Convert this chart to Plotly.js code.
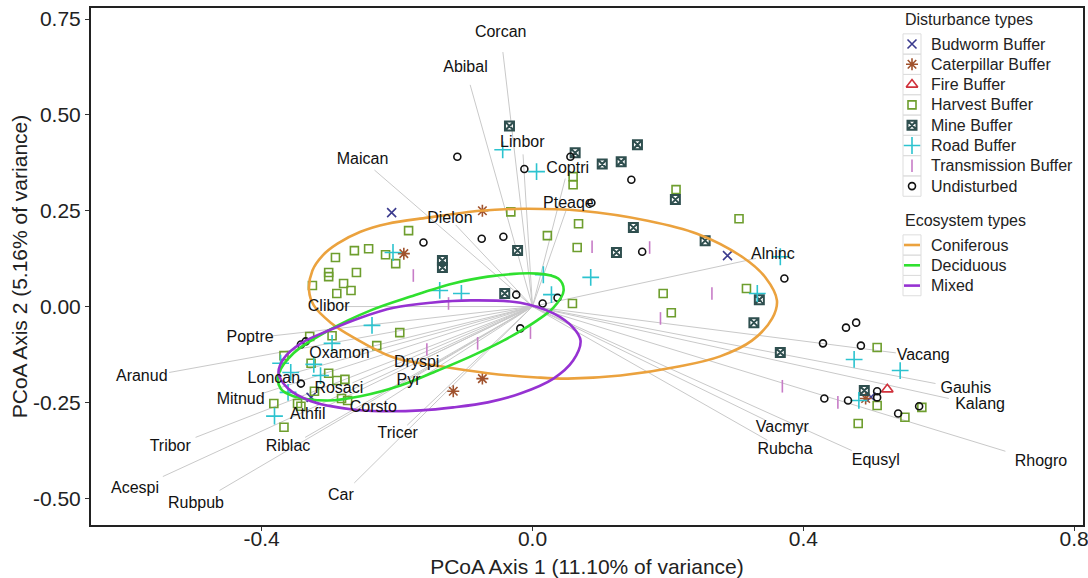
<!DOCTYPE html>
<html><head><meta charset="utf-8">
<script src="https://cdn.plot.ly/plotly-3.0.1.min.js"></script>
<style>html,body{margin:0;padding:0;background:#fff}#chart{width:1088px;height:578px}</style>
</head><body><div id="chart"></div>
<script>
// ---- Species vectors (label positions, PCoA axes) ----
const speciesNames = ['Corcan','Abibal','Linbor','Maican','Coptri','Pteaqe','Dielon','Alninc','Clibor','Poptre','Oxamon','Aranud','Loncan','Dryspi','Pyr','Rosaci','Mitnud','Corsto','Athfil','Tricer','Tribor','Riblac','Acespi','Rubpub','Car','Vacang','Gauhis','Kalang','Vacmyr','Rubcha','Equsyl','Rhogro'];
const speciesX = [-0.047,-0.099,-0.015,-0.251,0.052,0.053,-0.122,0.355,-0.301,-0.417,-0.285,-0.577,-0.382,-0.171,-0.183,-0.286,-0.431,-0.235,-0.332,-0.199,-0.535,-0.361,-0.587,-0.497,-0.283,0.577,0.640,0.661,0.369,0.373,0.507,0.751];
const speciesY = [0.714,0.622,0.427,0.383,0.359,0.268,0.229,0.135,0.000,-0.083,-0.125,-0.185,-0.188,-0.146,-0.193,-0.214,-0.245,-0.266,-0.284,-0.333,-0.367,-0.367,-0.477,-0.516,-0.495,-0.130,-0.216,-0.258,-0.318,-0.375,-0.404,-0.406];

// ---- Sites by disturbance type ----
const budwormX = [-0.208,0.288,0.500,-0.327];
const budwormY = [0.245,0.133,-0.236,-0.237];
const caterpillarX = [-0.074,-0.190,-0.074,-0.117,0.492];
const caterpillarY = [0.250,0.138,-0.188,-0.221,-0.240];
const fireX = [0.524];
const fireY = [-0.216];
const harvestX = [-0.183,-0.242,-0.263,-0.291,-0.217,-0.202,-0.260,-0.301,-0.301,-0.325,-0.279,-0.268,-0.289,-0.196,-0.230,-0.296,-0.329,-0.367,-0.327,-0.301,-0.289,-0.277,-0.322,-0.282,-0.273,-0.347,-0.342,-0.382,-0.367,0.193,0.205,0.059,0.316,-0.032,0.022,0.066,0.068,0.060,0.060,0.212,0.305,0.509,0.509,0.481,0.550,0.575];
const harvestY = [0.198,0.151,0.146,0.128,0.135,0.112,0.089,0.089,0.078,0.055,0.060,0.042,0.034,-0.068,-0.102,-0.076,-0.078,-0.128,-0.148,-0.174,-0.193,-0.190,-0.221,-0.240,-0.245,-0.253,-0.260,-0.253,-0.315,0.034,-0.016,0.008,0.047,0.247,0.185,0.154,0.216,0.318,0.339,0.305,0.229,-0.107,-0.258,-0.305,-0.289,-0.263];
const mineX = [-0.034,0.063,0.103,0.131,0.155,0.211,0.149,0.255,-0.022,0.124,-0.133,-0.133,-0.041,0.335,0.327,0.366,0.490];
const mineY = [0.471,0.401,0.372,0.378,0.422,0.279,0.206,0.172,0.146,0.141,0.120,0.102,0.034,0.018,-0.042,-0.120,-0.219];
const roadX = [-0.044,0.006,0.016,0.086,-0.137,-0.105,0.028,-0.206,-0.237,-0.296,-0.372,-0.357,-0.323,-0.313,-0.361,-0.381,0.332,0.366,0.475,0.543,0.482];
const roadY = [0.409,0.352,0.083,0.076,0.042,0.034,0.031,0.141,-0.049,-0.096,-0.148,-0.172,-0.151,-0.180,-0.224,-0.286,0.034,0.130,-0.138,-0.167,-0.245];
const transX = [0.088,0.173,-0.176,0.265,0.189,-0.003,-0.081,-0.156,-0.124,0.369,0.451];
const transY = [0.156,0.154,0.081,0.034,-0.031,-0.068,-0.096,-0.112,0.008,-0.208,-0.250];
const undistX = [-0.111,-0.012,0.056,0.146,0.087,-0.161,-0.075,-0.043,0.162,-0.024,0.037,0.015,-0.018,0.372,-0.342,-0.335,-0.342,0.463,0.478,0.429,0.485,0.509,0.509,0.431,0.466,0.540,0.571];
const undistY = [0.391,0.359,0.391,0.331,0.271,0.167,0.177,0.182,0.143,0.031,0.023,0.008,-0.057,0.073,-0.099,-0.091,-0.201,-0.055,-0.042,-0.096,-0.102,-0.221,-0.237,-0.240,-0.245,-0.279,-0.260];

// ---- Ecosystem ellipses (outline) ----
const coniferousX = [-0.330,-0.325,-0.310,-0.288,-0.254,-0.214,-0.155,-0.077,-0.013,0.071,0.170,0.243,0.311,0.344,0.361,0.354,0.324,0.277,0.218,0.130,0.052,0.007,-0.066,-0.136,-0.205,-0.264,-0.298,-0.323,-0.330];
const coniferousY = [0.042,0.094,0.133,0.164,0.195,0.216,0.232,0.250,0.255,0.250,0.224,0.190,0.128,0.076,0.016,-0.031,-0.089,-0.130,-0.156,-0.180,-0.188,-0.185,-0.174,-0.156,-0.133,-0.081,-0.042,0.003,0.042];
const deciduousX = [-0.375,-0.353,-0.302,-0.239,-0.180,-0.117,-0.066,0.007,0.038,0.046,0.031,0.007,-0.043,-0.091,-0.140,-0.195,-0.254,-0.302,-0.353,-0.372,-0.375];
const deciduousY = [-0.177,-0.122,-0.063,-0.010,0.026,0.060,0.078,0.086,0.073,0.042,-0.003,-0.036,-0.089,-0.130,-0.167,-0.206,-0.234,-0.245,-0.234,-0.214,-0.177];
const mixedX = [-0.375,-0.367,-0.342,-0.302,-0.254,-0.205,-0.150,-0.091,-0.018,0.031,0.060,0.071,0.060,0.031,-0.018,-0.066,-0.117,-0.165,-0.224,-0.268,-0.327,-0.361,-0.375];
const mixedY = [-0.174,-0.135,-0.096,-0.063,-0.029,-0.003,0.010,0.016,0.010,-0.018,-0.055,-0.089,-0.141,-0.188,-0.227,-0.250,-0.263,-0.271,-0.273,-0.268,-0.247,-0.214,-0.174];

// ---- Tick labels & legend titles ----
const xTickVals = [-0.4,0.0,0.4,0.8];
const xTickText = ['-0.4','0.0','0.4','0.8'];
const yTickVals = [-0.5,-0.25,0,0.25,0.5,0.75];
const yTickText = ['-0.50','-0.25','0.00','0.25','0.50','0.75'];
const legendTitle1 = 'Disturbance types';
const legendTitle2 = 'Ecosystem types';

const FONT = 'Liberation Sans, Arial, sans-serif';
const traces = [];

// species vector lines
const lx = [], ly = [];
speciesX.forEach((x,i)=>{ lx.push(0, x*0.93, null); ly.push(0, speciesY[i]*0.93, null); });
traces.push({x:lx, y:ly, mode:'lines', line:{color:'#c9c9c9', width:1}, hoverinfo:'skip', showlegend:false});

const groups = [
  {name:'Budworm Buffer', x:budwormX, y:budwormY, symbol:'x-thin-open', size:9, color:'#3b3b8e', lw:1.6},
  {name:'Caterpillar Buffer', x:caterpillarX, y:caterpillarY, symbol:'asterisk-open', size:10, color:'#a0522d', lw:1.6},
  {name:'Fire Buffer', x:fireX, y:fireY, symbol:'triangle-up-open', size:10, color:'#d0313b', lw:1.6},
  {name:'Harvest Buffer', x:harvestX, y:harvestY, symbol:'square-open', size:8, color:'#6e9e2e', lw:1.6},
  {name:'Mine Buffer', x:mineX, y:mineY, symbol:'square-x-open', size:9, color:'#2f4f4f', lw:2},
  {name:'Road Buffer', x:roadX, y:roadY, symbol:'cross-thin-open', size:12, color:'#2cc3cf', lw:1.6},
  {name:'Transmission Buffer', x:transX, y:transY, symbol:'line-ns-open', size:9, color:'#c77cc7', lw:1.6},
  {name:'Undisturbed', x:undistX, y:undistY, symbol:'circle-open', size:7, color:'#111111', lw:1.6}
];
groups.forEach(g=>{
  traces.push({x:g.x, y:g.y, mode:'markers', name:g.name, showlegend:false,
    marker:{symbol:g.symbol, size:g.size, color:g.color, line:{color:g.color, width:g.lw}},
    hoverinfo:'name'});
});

const ells = [
  {name:'Coniferous', x:coniferousX, y:coniferousY, color:'#eba23e'},
  {name:'Deciduous', x:deciduousX, y:deciduousY, color:'#2fe02f'},
  {name:'Mixed', x:mixedX, y:mixedY, color:'#9632d2'}
];
ells.forEach(e=>{
  traces.push({x:e.x, y:e.y, mode:'lines', name:e.name, showlegend:false,
    line:{color:e.color, width:2.6, shape:'spline', smoothing:1}, hoverinfo:'name'});
});

// species labels
traces.push({x:speciesX, y:speciesY, mode:'text', text:speciesNames, textposition:'middle center',
  textfont:{family:FONT, size:16, color:'#111'}, hoverinfo:'skip', showlegend:false, cliponaxis:false});

// ---- hand-built legend on an overlay axis measured in pixels ----
const L = {box0:903, box1:921, sym:912, text:929, title1:19, row1:44, step:20.3, title2:220, row2:245};
const shapes = [], annotations = [];
annotations.push({xref:'x2', yref:'y2', x:L.box0, y:L.title1, text:legendTitle1, showarrow:false,
  xanchor:'left', yanchor:'middle', font:{size:16, color:'#222'}});
annotations.push({xref:'x2', yref:'y2', x:L.box0, y:L.title2, text:legendTitle2, showarrow:false,
  xanchor:'left', yanchor:'middle', font:{size:16, color:'#222'}});
groups.forEach((g,i)=>{
  const yy = L.row1 + i*L.step;
  shapes.push({type:'rect', xref:'x2', yref:'y2', x0:L.box0, x1:L.box1, y0:yy-L.step/2, y1:yy+L.step/2,
    line:{color:'#dddddd', width:1}, fillcolor:'rgba(0,0,0,0)'});
  annotations.push({xref:'x2', yref:'y2', x:L.text, y:yy, text:g.name, showarrow:false,
    xanchor:'left', yanchor:'middle', font:{size:16, color:'#222'}});
  traces.push({x:[L.sym], y:[yy], xaxis:'x2', yaxis:'y2', mode:'markers', showlegend:false, hoverinfo:'skip',
    marker:{symbol:g.symbol, size:g.size, color:g.color, line:{color:g.color, width:g.lw}}, cliponaxis:false});
});
ells.forEach((e,i)=>{
  const yy = L.row2 + i*L.step;
  shapes.push({type:'rect', xref:'x2', yref:'y2', x0:L.box0, x1:L.box1, y0:yy-L.step/2, y1:yy+L.step/2,
    line:{color:'#dddddd', width:1}, fillcolor:'rgba(0,0,0,0)'});
  shapes.push({type:'line', xref:'x2', yref:'y2', x0:L.box0+1, x1:L.box1-1, y0:yy, y1:yy,
    line:{color:e.color, width:2.6}});
  annotations.push({xref:'x2', yref:'y2', x:L.text, y:yy, text:e.name, showarrow:false,
    xanchor:'left', yanchor:'middle', font:{size:16, color:'#222'}});
});

const layout = {
  width:1088, height:578,
  margin:{l:91, r:5, t:8, b:53},
  paper_bgcolor:'#fff', plot_bgcolor:'#fff',
  font:{family:FONT, color:'#222'},
  showlegend:false,
  xaxis:{range:[-0.652,0.813], tickvals:xTickVals, ticktext:xTickText, showgrid:false, zeroline:false,
    showline:true, mirror:true, linecolor:'#222', linewidth:2, ticks:'outside', ticklen:4, tickcolor:'#333',
    tickfont:{size:21, color:'#222'}, ticklabeloverflow:'allow', ticklabelstandoff:-10,
    title:{text:'PCoA Axis 1 (11.10% of variance)', font:{size:21, color:'#222'}, standoff:14}},
  yaxis:{range:[-0.570,0.779], tickvals:yTickVals, ticktext:yTickText, showgrid:false, zeroline:false,
    showline:true, mirror:true, linecolor:'#222', linewidth:2, ticks:'outside', ticklen:4, tickcolor:'#333',
    tickfont:{size:21, color:'#222'},
    title:{text:'PCoA Axis 2 (5.16% of variance)', font:{size:21, color:'#222'}, standoff:0}},
  xaxis2:{overlaying:'x', range:[91,1083], visible:false, fixedrange:true},
  yaxis2:{overlaying:'y', range:[525,8], visible:false, fixedrange:true},
  shapes:shapes, annotations:annotations
};

Plotly.newPlot('chart', traces, layout, {displayModeBar:false, staticPlot:true});
</script>
</body></html>
